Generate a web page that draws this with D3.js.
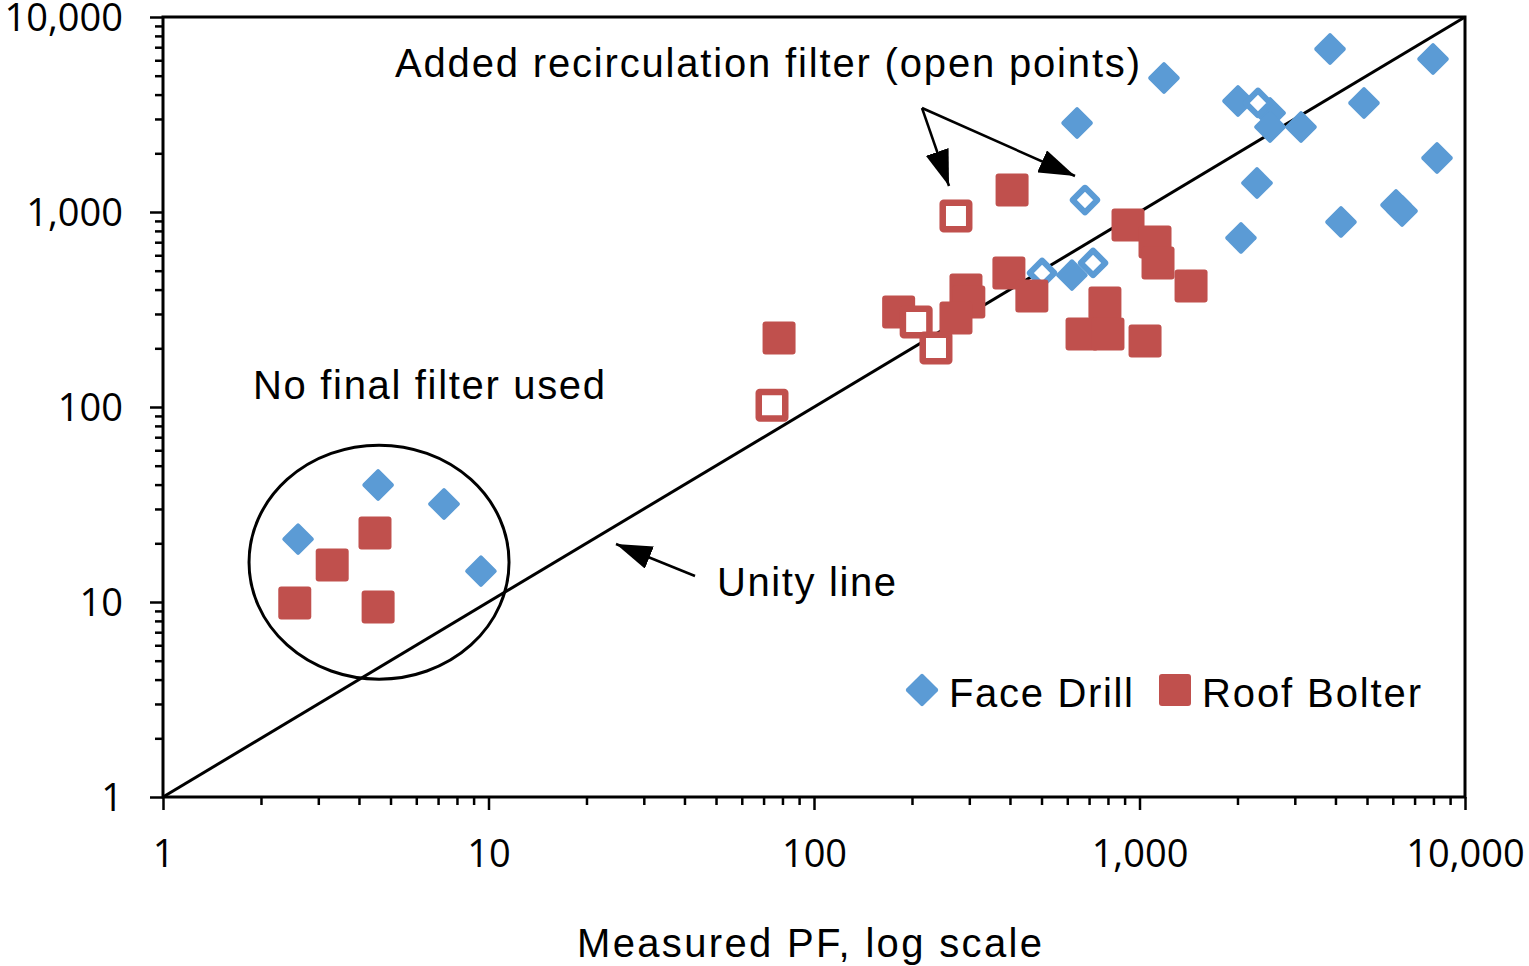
<!DOCTYPE html>
<html>
<head>
<meta charset="utf-8">
<script src="https://cdn.jsdelivr.net/npm/d3@7"></script>
<style>
  body { margin: 0; background: #fff; }
  svg { display: block; }
</style>
</head>
<body>
<div id="chart"></div>
<script>
// Measured PF (x) vs predicted PF (y)
const faceDrillX = [2.60, 4.58, 7.30, 9.48, 643, 620, 1189, 2007, 2518, 2518, 3135, 4894, 3849, 7975, 2296, 2050, 4159, 6138, 6407, 8204];
const faceDrillY = [21.0, 39.8, 31.8, 14.4, 2860, 475, 4865, 3708, 3219, 2729, 2729, 3623, 6852, 6089, 1408, 736, 889, 1086, 1012, 1892];
const faceDrillOpenX = [2312, 680, 502, 720];
const faceDrillOpenY = [3623, 1152, 487, 548];
const roofBolterX = [4.48, 3.31, 2.54, 4.58, 78.1, 406, 922, 1116, 1140, 1440, 397, 467, 293, 299, 273, 182, 783, 666, 800, 1040];
const roofBolterY = [22.6, 15.5, 9.88, 9.43, 226, 1297, 858, 702, 548, 417, 487, 371, 398, 346, 286, 307, 341, 237, 237, 218];
const roofBolterOpenX = [273, 206, 237, 74.3];
const roofBolterOpenY = [954, 273, 201, 102];
const majorTicks = [1, 10, 100, 1000, 10000];
const unityLine = [1, 10000];

const blue = '#5b9bd5';
const red = '#c0504d';
const width = 1529;
const height = 966;
const margin = { top: 17, right: 64, bottom: 169, left: 163 };

const x = d3.scaleLog().domain([1, 10000]).range([margin.left, width - margin.right]);
const y = d3.scaleLog().domain([1, 10000]).range([height - margin.bottom, margin.top]);

const svg = d3.select('#chart')
  .append('svg')
  .attr('width', width)
  .attr('height', height);

const pairs = (xs, ys) => xs.map((v, i) => [v, ys[i]]);

// minor ticks (no labels)
const minorTicks = x.ticks().filter(t => !majorTicks.includes(t));
svg.append('g')
  .attr('transform', `translate(0,${y(1)})`)
  .call(d3.axisBottom(x).tickValues(minorTicks).tickSize(8).tickFormat(''))
  .call(g => g.select('.domain').remove())
  .call(g => g.selectAll('line').attr('stroke-width', 2.5));
svg.append('g')
  .attr('transform', `translate(${x(1)},0)`)
  .call(d3.axisLeft(y).tickValues(minorTicks).tickSize(8).tickFormat(''))
  .call(g => g.select('.domain').remove())
  .call(g => g.selectAll('line').attr('stroke-width', 2.5));

// major ticks with labels
const xAxis = svg.append('g')
  .attr('transform', `translate(0,${y(1)})`)
  .call(d3.axisBottom(x).tickValues(majorTicks).tickSize(13).tickPadding(38).tickFormat(d3.format(',')));
const yAxis = svg.append('g')
  .attr('transform', `translate(${x(1)},0)`)
  .call(d3.axisLeft(y).tickValues(majorTicks).tickSize(13).tickPadding(27).tickFormat(d3.format(',')));
[xAxis, yAxis].forEach(a => {
  a.select('.domain').remove();
  a.selectAll('line').attr('stroke-width', 2.5);
  a.selectAll('text')
    .attr('font-family', '"Open Sans", sans-serif')
    .attr('font-size', 38)
    .attr('fill', '#000');
});
xAxis.selectAll('text').attr('dy', '0.5em');
yAxis.selectAll('text').attr('dy', '0.36em');

// plot frame
svg.append('rect')
  .attr('x', x(1))
  .attr('y', y(10000))
  .attr('width', x(10000) - x(1))
  .attr('height', y(1) - y(10000))
  .attr('fill', 'none')
  .attr('stroke', '#000')
  .attr('stroke-width', 3);

// unity line
svg.append('line')
  .attr('x1', x(unityLine[0])).attr('y1', y(unityLine[0]))
  .attr('x2', x(unityLine[1])).attr('y2', y(unityLine[1]))
  .attr('stroke', '#000')
  .attr('stroke-width', 3);

// circle around the "no final filter" points
svg.append('ellipse')
  .attr('cx', x(4.61))
  .attr('cy', y(16.0))
  .attr('rx', 130)
  .attr('ry', 117)
  .attr('fill', 'none')
  .attr('stroke', '#000')
  .attr('stroke-width', 3);

// markers
function diamonds(data, open) {
  const s = open ? 17.5 : 23.5;
  svg.append('g')
    .selectAll('rect')
    .data(data)
    .join('rect')
    .attr('x', -s / 2)
    .attr('y', -s / 2)
    .attr('width', s)
    .attr('height', s)
    .attr('rx', open ? 0.5 : 2)
    .attr('transform', d => `translate(${x(d[0])},${y(d[1])}) rotate(45)`)
    .attr('fill', open ? '#fff' : blue)
    .attr('stroke', open ? blue : 'none')
    .attr('stroke-width', open ? 6 : 0);
}
function squares(data, open) {
  const s = open ? 26.5 : 33;
  svg.append('g')
    .selectAll('rect')
    .data(data)
    .join('rect')
    .attr('x', d => x(d[0]) - s / 2)
    .attr('y', d => y(d[1]) - s / 2)
    .attr('width', s)
    .attr('height', s)
    .attr('rx', open ? 1 : 3)
    .attr('fill', open ? '#fff' : red)
    .attr('stroke', open ? red : 'none')
    .attr('stroke-width', open ? 6.5 : 0);
}
diamonds(pairs(faceDrillX, faceDrillY), false);
diamonds(pairs(faceDrillOpenX, faceDrillOpenY), true);
squares(pairs(roofBolterX, roofBolterY), false);
squares(pairs(roofBolterOpenX, roofBolterOpenY), true);

// arrows
const defs = svg.append('defs');
defs.append('marker')
  .attr('id', 'head')
  .attr('viewBox', '0 0 36 24')
  .attr('refX', 36)
  .attr('refY', 12)
  .attr('markerWidth', 36)
  .attr('markerHeight', 24)
  .attr('markerUnits', 'userSpaceOnUse')
  .attr('orient', 'auto')
  .append('path')
  .attr('d', 'M0,0L36,12L0,24Z')
  .attr('fill', '#000');

const arrows = [
  [[922, 108], [949, 186]],
  [[922, 108], [1075, 176]],
  [[695, 576], [616, 544]],
];
svg.append('g')
  .selectAll('line')
  .data(arrows)
  .join('line')
  .attr('x1', d => d[0][0]).attr('y1', d => d[0][1])
  .attr('x2', d => d[1][0]).attr('y2', d => d[1][1])
  .attr('stroke', '#000')
  .attr('stroke-width', 2.5)
  .attr('marker-end', 'url(#head)');

// labels
const labels = [
  { text: 'Added recirculation filter (open points)', x: 395, y: 77, w: 745 },
  { text: 'No final filter used', x: 253, y: 399, w: 352 },
  { text: 'Unity line', x: 717, y: 596, w: 179 },
  { text: 'Face Drill', x: 949, y: 707, w: 184 },
  { text: 'Roof Bolter', x: 1202, y: 707, w: 219 },
  { text: 'Measured PF, log scale', x: 577, y: 957, w: 465 },
];
svg.append('g')
  .selectAll('text')
  .data(labels)
  .join('text')
  .attr('x', d => d.x)
  .attr('y', d => d.y)
  .attr('textLength', d => d.w)
  .attr('lengthAdjust', 'spacing')
  .attr('font-family', '"Liberation Sans", Arial, sans-serif')
  .attr('font-size', 40)
  .attr('fill', '#000')
  .text(d => d.text);

// legend markers
svg.append('rect')
  .attr('x', -12).attr('y', -12).attr('width', 24).attr('height', 24).attr('rx', 2)
  .attr('transform', 'translate(922,690) rotate(45)')
  .attr('fill', blue);
svg.append('rect')
  .attr('x', 1159).attr('y', 674).attr('width', 32).attr('height', 32).attr('rx', 3)
  .attr('fill', red);
</script>
</body>
</html>
